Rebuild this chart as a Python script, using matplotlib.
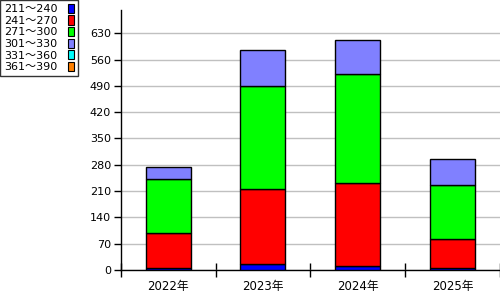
import matplotlib
matplotlib.use("Agg")
import matplotlib.pyplot as plt
from matplotlib.patches import Rectangle
import numpy as np

plt.rcParams['font.family'] = ['DejaVu Sans', 'Noto Sans CJK JP']

categories = ['2022年', '2023年', '2024年', '2025年']
series_names = ['211～240', '241～270', '271～300', '301～330', '331～360', '361～390']
series_colors = ['#0000FF', '#FF0000', '#00FF00', '#8080FF', '#00FFFF', '#FF8000']
v211 = [6, 15, 10, 4]
v241 = [92, 200, 221, 78]
v271 = [143, 274, 290, 143]
v301 = [32, 96, 90, 70]
v331 = [0, 0, 0, 0]
v361 = [0, 0, 0, 0]
series_values = [v211, v241, v271, v301, v331, v361]
yticks = [0, 70, 140, 210, 280, 350, 420, 490, 560, 630]

fig = plt.figure(figsize=(5, 3), dpi=100)
ax = fig.add_axes([0.2414, 0.1, 0.7586, 0.8667])

x = np.arange(len(categories))
bottom = np.zeros(len(categories))
for name, color, vals in zip(series_names, series_colors, series_values):
    vals = np.array(vals, dtype=float)
    if vals.sum() > 0:
        ax.bar(x, vals, bottom=bottom, width=0.474, color=color,
               edgecolor='black', linewidth=1, zorder=3)
    bottom += vals

ax.set_xlim(-0.5, len(categories) - 0.5)
ax.set_ylim(0, 692)
ax.set_yticks(yticks)
ax.set_yticklabels([str(t) for t in yticks], fontsize=8)
ax.yaxis.grid(True, color='#c0c0c0', linewidth=1, zorder=0)
ax.set_axisbelow(True)
ax.set_xticks(x)
ax.set_xticklabels(categories, fontsize=8.5)
ax.tick_params(axis='x', which='major', length=0, pad=7)
ax.set_xticks(np.arange(-0.5, len(categories), 1.0), minor=True)
ax.tick_params(axis='x', which='minor', length=10, direction='inout', width=1)
ax.tick_params(axis='y', length=5, width=1, pad=2)
for s in ['top', 'right']:
    ax.spines[s].set_visible(False)
for s in ['left', 'bottom']:
    ax.spines[s].set_linewidth(1)

handles = [Rectangle((0, 0), 1, 1, facecolor=c, edgecolor='black', linewidth=0.8)
           for c in series_colors]
leg = fig.legend(handles, series_names, loc='upper left', bbox_to_anchor=(0.0, 1.0),
                 markerfirst=False, fancybox=False, frameon=True, fontsize=8,
                 handlelength=0.6, handleheight=0.9, handletextpad=0.9,
                 labelspacing=0.1, borderpad=0.35, borderaxespad=0.0)
leg.get_frame().set_edgecolor('black')
leg.get_frame().set_linewidth(1)

fig.savefig('out.png', dpi=100)
